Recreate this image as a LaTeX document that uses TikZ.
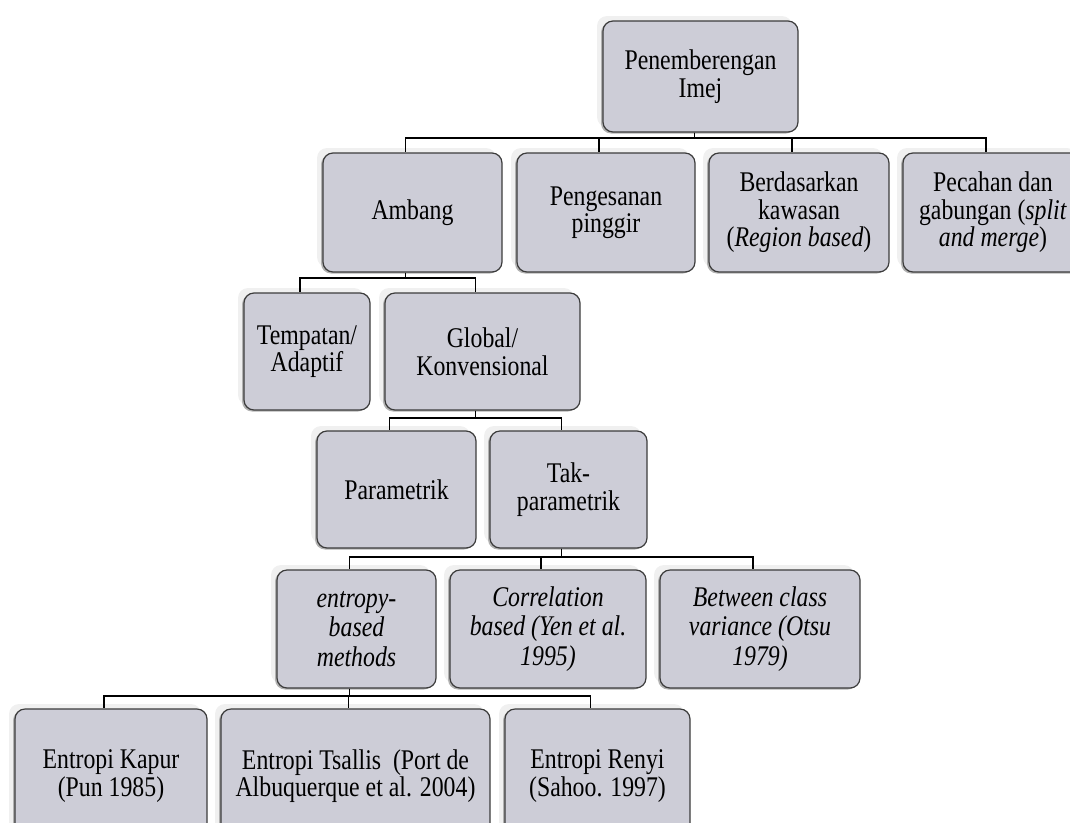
\documentclass[tikz,border=0pt]{standalone}
\usepackage{fontspec}
\setmainfont{Liberation Serif}[FakeStretch=0.835]
\usepackage{xcolor}
\usepackage{tikz}
\usetikzlibrary{shadows}
\definecolor{boxfill}{RGB}{205,205,215}
\definecolor{boxline}{RGB}{60,60,60}

\begin{document}
\begin{tikzpicture}[x=1pt,y=-1pt,
    seg box/.style={rectangle,rounded corners=10pt,draw=boxline,line width=1.2pt,fill=boxfill,
      align=center,inner sep=2pt,font=\fontsize{28.5}{27.5}\selectfont,
      general shadow={fill=black!6,draw=none,shadow xshift=-6pt,shadow yshift=5pt},
      general shadow={fill=black!30,draw=none,shadow xshift=-2pt,shadow yshift=-1.5pt}},
    loose/.style={font=\fontsize{28.5}{29.5}\selectfont\itshape},
    bus/.style={draw=black,line width=1.8pt}]
        \clip (0,0) rectangle (1070,822);
        % top
        \node[seg box,minimum width=195pt,minimum height=111pt] (root) at (700.5,76.5) {Penemberengan\\Imej};
        % level 1
        \node[seg box,minimum width=179pt,minimum height=119pt] (amb)  at (412.5,212.5) {Ambang};
        \node[seg box,minimum width=178pt,minimum height=119pt] (peng) at (606,212.5) {Pengesanan\\pinggir};
        \node[seg box,minimum width=180pt,minimum height=119pt] (berd) at (799,212.5) {Berdasarkan\\kawasan\\(\textit{Region based})};
        \node[seg box,minimum width=180pt,minimum height=119pt] (pec)  at (993,212.5) {Pecahan dan\\gabungan (\textit{split}\\\textit{and merge})};
        % level 2
        \node[seg box,minimum width=126pt,minimum height=117pt] (temp) at (307,351.5) {Tempatan/\\Adaptif};
        \node[seg box,minimum width=195pt,minimum height=117pt] (glob) at (482.5,351.5) {Global/\\Konvensional};
        % level 3
        \node[seg box,minimum width=159pt,minimum height=117pt] (param) at (396.5,489.5) {Parametrik};
        \node[seg box,minimum width=157pt,minimum height=117pt] (takp)  at (568.5,489.5) {Tak-\\parametrik};
        % level 4
        \node[seg box,loose,minimum width=159pt,minimum height=118pt] (entr) at (356.5,629) {entropy-\\based\\methods};
        \node[seg box,loose,minimum width=196pt,minimum height=118pt] (corr) at (548,629) {Correlation\\based (Yen et al.\\1995)};
        \node[seg box,loose,minimum width=200pt,minimum height=118pt] (betw) at (760,629) {Between class\\variance (Otsu\\1979)};
        % level 5 (runs off the bottom edge)
        \node[seg box,minimum width=192pt,minimum height=134pt] (kap)  at (111,776) {Entropi Kapur\\(Pun 1985)};
        \node[seg box,minimum width=269pt,minimum height=134pt] (tsal) at (355.5,776) {Entropi Tsallis\ \ (Port de\\Albuquerque et al. 2004)};
        \node[seg box,minimum width=185pt,minimum height=134pt] (reny) at (597.5,776) {Entropi Renyi\\(Sahoo. 1997)};
        % connectors: parent -> bus -> child
        \foreach \c in {amb,peng,berd,pec}
          \draw[bus] ([xshift=-6pt]root.south) -- ++(0,5) -| ([xshift=-7pt]\c.north);
        \foreach \c in {temp,glob}
          \draw[bus] ([xshift=-7pt]amb.south) -- ++(0,5) -| ([xshift=-7pt]\c.north);
        \foreach \c in {param,takp}
          \draw[bus] ([xshift=-7pt]glob.south) -- ++(0,7) -| ([xshift=-7pt]\c.north);
        \foreach \c in {entr,corr,betw}
          \draw[bus] ([xshift=-7pt]takp.south) -- ++(0,8) -| ([xshift=-7pt]\c.north);
        \foreach \c in {kap,tsal,reny}
          \draw[bus] ([xshift=-7pt]entr.south) -- ++(0,7) -| ([xshift=-7pt]\c.north);
      \end{tikzpicture}
\end{document}
